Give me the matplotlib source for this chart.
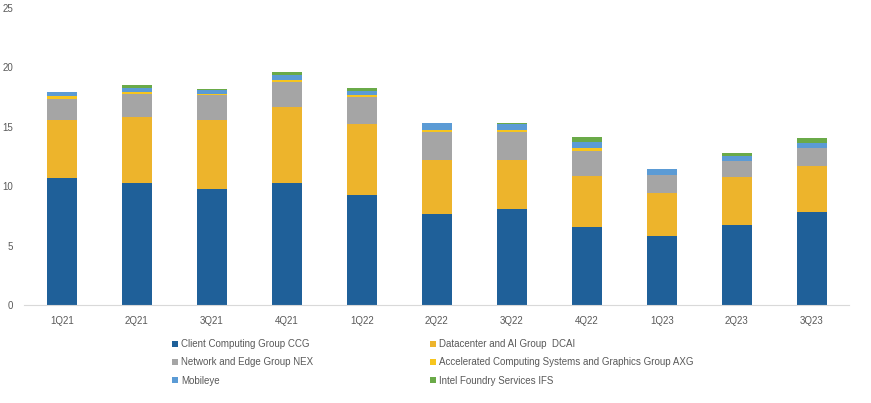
"""
Intel revenue by segment, stacked bars per quarter.
"""

import matplotlib.pyplot as plt
import numpy as np

quarters = ['1Q21', '2Q21', '3Q21', '4Q21', '1Q22', '2Q22', '3Q22', '4Q22', '1Q23', '2Q23', '3Q23']

# values (billions USD)
ccg = [10.7, 10.27, 9.79, 10.27, 9.26, 7.69, 8.05, 6.54, 5.81, 6.73, 7.86]
dcai = [4.87, 5.53, 5.76, 6.37, 5.98, 4.54, 4.18, 4.34, 3.64, 4.04, 3.84]
nex = [1.75, 2.0, 2.13, 2.13, 2.24, 2.36, 2.33, 2.08, 1.52, 1.38, 1.49]
axg = [0.25, 0.17, 0.11, 0.17, 0.17, 0.17, 0.2, 0.23, 0.0, 0.0, 0.0]
mobileye = [0.4, 0.3, 0.3, 0.39, 0.39, 0.56, 0.45, 0.53, 0.5, 0.39, 0.42]
ifs = [0.0, 0.28, 0.12, 0.26, 0.23, 0.0, 0.14, 0.42, 0.0, 0.25, 0.42]

series = [
    ('Client Computing Group CCG', ccg, '#1F6099'),
    ('Datacenter and AI Group  DCAI', dcai, '#EDB42C'),
    ('Network and Edge Group NEX', nex, '#A5A5A5'),
    ('Accelerated Computing Systems and Graphics Group AXG', axg, '#F7C51E'),
    ('Mobileye', mobileye, '#5B9BD5'),
    ('Intel Foundry Services IFS', ifs, '#6AAA48'),
]

plt.rcParams['font.family'] = ['Liberation Sans', 'DejaVu Sans']

fig = plt.figure(figsize=(8.71, 4.03), dpi=100)
ax = fig.add_axes([0.028, 0.243, 0.947, 0.737])

x = np.arange(len(quarters))
bottom = np.zeros(len(quarters))
handles = {}
for name, vals, color in series:
    bars = ax.bar(x, vals, width=0.4, bottom=bottom, color=color, label=name)
    handles[name] = bars
    bottom += np.array(vals)

ax.set_ylim(0, 25)
ax.set_yticks([0, 5, 10, 15, 20, 25])
ax.set_xlim(-0.5, len(quarters) - 0.5)
ax.set_xticks(x)
ax.set_xticklabels(quarters)

for side in ['top', 'right', 'left']:
    ax.spines[side].set_visible(False)
ax.spines['bottom'].set_color('#D9D9D9')
ax.tick_params(axis='both', length=0, labelsize=7, colors='#595959', pad=8)

# legend is filled row by row in the reference
order = [0, 2, 4, 1, 3, 5]
names = [series[i][0] for i in order]
fig.legend([handles[n] for n in names], names,
           loc='upper left', bbox_to_anchor=(0.188, 0.18), ncol=2,
           frameon=False, fontsize=7, labelcolor='#595959',
           handlelength=0.6, handleheight=0.6, handletextpad=0.3,
           columnspacing=12.0, labelspacing=0.85)

plt.savefig('out.png', dpi=100)
